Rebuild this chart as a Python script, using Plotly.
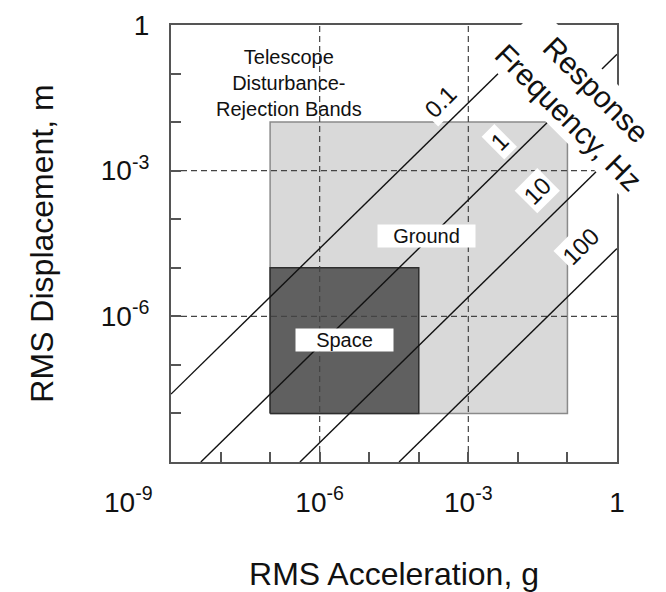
import plotly.graph_objects as go

# ---------------- data ----------------
decade_vals = [1e-9, 1e-8, 1e-7, 1e-6, 1e-5, 1e-4, 1e-3, 1e-2, 1e-1, 1]
x_tick_text = ["", "", "", "10<sup>-6</sup>", "", "", "10<sup>-3</sup>", "", "", "1"]
y_tick_text = ["", "", "", "10<sup>-6</sup>", "", "", "10<sup>-3</sup>", "", "", "1"]
corner_label = "10<sup>-9</sup>"

grid_decades = [1e-6, 1e-3]

# response-frequency lines (Hz) with end points
freq_labels = ["0.1", "1", "10", "100"]
line_accel_start = [1e-9, 4e-9, 4e-7, 4e-5]
line_disp_start = [2.5e-8, 1e-9, 1e-9, 1e-9]
line_accel_end = [0.04, 1, 1, 1]
line_disp_end = [1, 0.25, 2.5e-3, 2.5e-5]

# disturbance-rejection bands
band_names = ["Ground", "Space"]
band_accel_min = [1e-7, 1e-7]
band_accel_max = [1e-1, 1e-4]
band_disp_min = [1e-8, 1e-8]
band_disp_max = [1e-2, 1e-5]

# ---------------- styling ----------------
FONT = "Liberation Sans, Arial, Helvetica, sans-serif"
band_fill = ["#d9d9d9", "#606060"]
band_line = ["#8a8a8a", "#2e2e2e"]
AX = "#555555"

fig = go.Figure()

for i, name in enumerate(band_names):
    x0, x1 = band_accel_min[i], band_accel_max[i]
    y0, y1 = band_disp_min[i], band_disp_max[i]
    fig.add_trace(go.Scatter(
        x=[x0, x1, x1, x0, x0], y=[y0, y0, y1, y1, y0],
        mode="lines", fill="toself", fillcolor=band_fill[i],
        line=dict(color=band_line[i], width=1.5),
        hoverinfo="skip", showlegend=False))

for g in grid_decades:
    fig.add_trace(go.Scatter(x=[g, g], y=[decade_vals[0], decade_vals[-1]], mode="lines",
                             line=dict(color="#444444", width=1.2, dash="6px,4px"),
                             hoverinfo="skip", showlegend=False))
    fig.add_trace(go.Scatter(x=[decade_vals[0], decade_vals[-1]], y=[g, g], mode="lines",
                             line=dict(color="#444444", width=1.2, dash="6px,4px"),
                             hoverinfo="skip", showlegend=False))

for i, lab in enumerate(freq_labels):
    fig.add_trace(go.Scatter(
        x=[line_accel_start[i], line_accel_end[i]],
        y=[line_disp_start[i], line_disp_end[i]],
        mode="lines", line=dict(color="#111111", width=1.4),
        hoverinfo="skip", showlegend=False))

# label positions (log10 of data coordinates)
freq_label_pos = [(-3.556, -1.584), (-2.367, -2.407), (-1.601, -3.416), (-0.734, -4.568)]
for lab, (lx, ly) in zip(freq_labels, freq_label_pos):
    fig.add_annotation(x=lx, y=ly, xref="x", yref="y", text=lab, showarrow=False,
                       textangle=-45, bgcolor="white", borderpad=2,
                       font=dict(family=FONT, size=24, color="#111111"))

fig.add_annotation(x=-0.69, y=-1.62, xref="x", yref="y",
                   text="Response<br>Frequency, Hz", showarrow=False,
                   textangle=45, bgcolor="white", borderpad=2, align="center",
                   font=dict(family=FONT, size=30, color="#111111"))

fig.add_annotation(x=-6.621, y=-1.193, xref="x", yref="y",
                   text="Telescope<br>Disturbance-<br>Rejection Bands", showarrow=False,
                   align="center", font=dict(family=FONT, size=20, color="#111111"))

band_label_pos = [(-3.849, -4.342), (-5.492, -6.481)]
for name, (lx, ly) in zip(band_names, band_label_pos):
    fig.add_annotation(x=lx, y=ly, xref="x", yref="y", text=name, showarrow=False,
                       bgcolor="white", width=97, height=22, borderpad=0,
                       font=dict(family=FONT, size=20, color="#111111"))

# corner label shared by both axes
fig.add_annotation(x=0, y=0, xref="paper", yref="paper", text=corner_label,
                   showarrow=False, xanchor="right", yanchor="top", xshift=-16, yshift=-18,
                   font=dict(family=FONT, size=28, color="#111111"))

axis_common = dict(
    type="log", range=[-9, 0], tickmode="array", tickvals=decade_vals,
    ticks="inside", ticklen=10, tickwidth=1.5, tickcolor=AX,
    showline=True, linecolor=AX, linewidth=2, mirror=True,
    showgrid=False, zeroline=False, automargin=False,
    tickfont=dict(family=FONT, size=28, color="#111111"),
)

# the page body adds an 8px margin, so the figure is 8px smaller than the window
fig.update_layout(
    width=658, height=584,
    margin=dict(l=163, r=49, t=17, b=130),
    paper_bgcolor="white", plot_bgcolor="white",
    xaxis=dict(axis_common, ticktext=x_tick_text, ticklabelstandoff=14,
               title=dict(text="RMS Acceleration, g", standoff=46,
                          font=dict(family=FONT, size=32, color="#111111"))),
    yaxis=dict(axis_common, ticktext=y_tick_text, ticklabelstandoff=14,
               title=dict(text="RMS Displacement, m", standoff=38,
                          font=dict(family=FONT, size=32, color="#111111"))),
    showlegend=False,
)

fig.write_html("out.html")
